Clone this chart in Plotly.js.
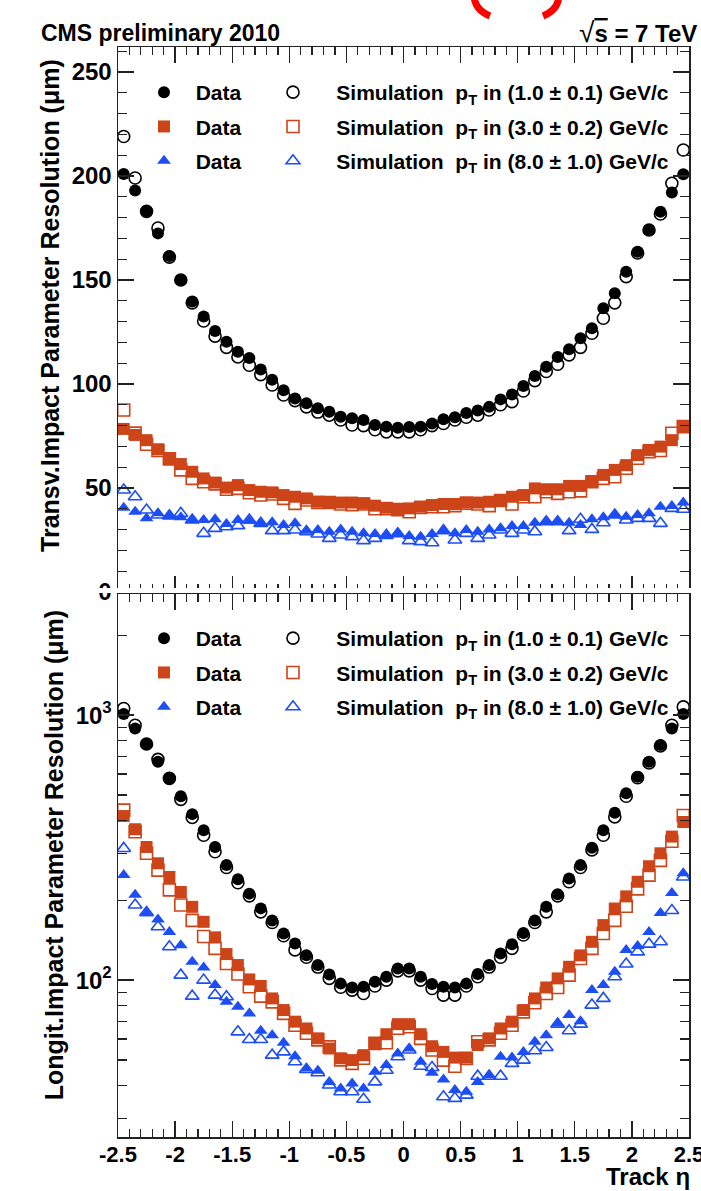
<!DOCTYPE html>
<html>
<head>
<meta charset="utf-8">
<script src="https://cdn.plot.ly/plotly-3.0.1.min.js"></script>
<style>html,body{margin:0;padding:0;background:#fff}#chart{width:701px;height:1191px}</style>
</head>
<body>
<div id="chart"></div>
<script>
// ---------- data ----------
const eta = [-2.45,-2.35,-2.25,-2.15,-2.05,-1.95,-1.85,-1.75,-1.65,-1.55,
             -1.45,-1.35,-1.25,-1.15,-1.05,-0.95,-0.85,-0.75,-0.65,-0.55,
             -0.45,-0.35,-0.25,-0.15,-0.05,0.05,0.15,0.25,0.35,0.45,
             0.55,0.65,0.75,0.85,0.95,1.05,1.15,1.25,1.35,1.45,
             1.55,1.65,1.75,1.85,1.95,2.05,2.15,2.25,2.35,2.45];

// Transverse impact parameter resolution (um)
const d0Data1 = [201,193,183,172.4,161.5,150,139.6,132.4,125.5,120.3,115.5,112.5,107,102,97,93,90.7,88.3,86.7,84.3,
                 83.5,82.7,80.3,79.5,79,79.3,79.5,81,83,84,86,87.2,89,92.6,95,99,103.8,108.3,113,116.7,
                 122,126.8,136.4,143.6,154,163.6,174,182.8,192,200.8];
const d0Sim1  = [219,199,183,175,161,150,139,130.3,123,117.6,113,109,104.5,99.5,94.7,92,89,86.5,85,82.7,
                 80.3,80,78,77,77,77,78,80,81,82.7,84,85,87.5,90,91.5,96.6,101.6,106,109.5,114,
                 117.6,124.4,131.6,139,151.6,163,174,181.7,196.5,212.5];
const d0Data3 = [78.4,75.5,73,68.6,64.3,61.5,57.8,54.6,52.6,50.2,51.4,49,48.2,47.9,46.6,45.8,45,43.4,43,43,
                 43,42.6,41.5,40.5,39.8,40.2,41,41.8,42.3,42.3,43,43,43.4,44.2,45.8,46.6,49.8,49.4,49.4,51,
                 51,53,56.3,58.7,61,65.8,68.3,69.9,73,79.8];
const d0Sim3  = [87.5,76.4,71,68,64,58.7,54.6,53,52,49.4,49.8,47.7,46.6,47.1,45,42.6,44.2,43,43,42.3,
                 42,42.3,40,40,39.6,38.6,40.6,41,41,41.5,42.7,42.3,41.5,44,42.3,45.8,45.8,48.2,47.4,48.2,
                 48.6,53,54.6,55.4,59.5,64.3,67.5,68,76.3,79.5];
const d0Data8 = [40.5,38.6,35.4,37.8,37,35.9,34.6,34.6,35,32.7,34.6,34.2,33,33.5,32.2,33,29.5,29.8,29,30.1,
                 29,28.2,27.9,27.4,28.2,26.9,26.6,27.9,29.5,28.2,29.8,29,30.1,30.6,31.7,31.7,33.3,33.8,33.8,33.3,
                 32.2,35,35.9,37,36.2,37,37.8,41,41.3,43];
const d0Sim8  = [49,45.8,39.4,37,36.6,37.8,34.6,28.2,30.6,31.4,31.9,34.6,33,29.5,29.5,29.8,29,27.9,25.8,27.4,
                 26.6,24.7,25.8,27.2,28,24.7,24.2,23.7,29.5,25,28.2,25.8,27.4,29.8,28.2,29.8,29,33.8,33.8,29.5,
                 35,30.1,33.3,37,34.6,35.4,35.4,33,40.2,39.8];

// Longitudinal impact parameter resolution (um)
const dzData1 = [1009,891,778,667,577,494,423,368,318,272,240,212,186.5,168,150,137.5,124,114,105,97,
                 93.8,94.4,98.6,103,110.6,110.6,103,96.6,94.4,93.8,97,105.4,114,126,136.7,150.7,168,189,211,242,
                 272,316,368,428,507,585,667,771,891,1009];
const dzSim1  = [1059,916,778,681,577,481,411,352,305,266,233,208,181,165,147,130,122,112,101.5,94,
                 91.7,89,95,100,108.4,108.4,100,93,87.8,87.8,95,103,112,122,131.8,148,165,181,208,235,
                 266,310,352,413,494,580,660,765,916,1074];
const dzData3 = [416,371,318,276,245,215,189,166,145,125.4,114,100.6,95,85.3,77.1,69.7,65.7,60.3,55.2,50.7,
                 49.9,52.1,57.7,62.5,68.2,68.2,62.5,56.3,53.6,51,51,56.9,60.3,65.7,69.7,77.1,85.3,93.8,101.5,112.3,
                 124,139.5,161.3,186.3,207,235,269,301,348,395];
const dzSim3  = [438,363,301,260,219,192,168,146,131.8,115.6,105.4,94.4,87,82.8,74.9,67.6,63,59.5,56,50,
                 48.5,50.7,57.7,58,65.8,66.7,60.3,54.5,49.9,47.3,50.6,58.5,59.5,63,67.6,75.9,82.1,89,93.8,104.4,
                 120.7,131.8,150,168,190,221,249,283,334,418];
const dzData8 = [249,210,178.6,169.5,152,135.5,117.2,111.6,95.8,82.8,79.3,74.9,64.4,62,58,51.6,46.4,45.5,41.3,39,
                 40.7,39,45.1,47.8,52.8,55.2,49.2,44.7,42.2,38.5,37.9,41.3,43.8,51.4,51,53.6,58.5,62,68.7,73.8,
                 70,91.7,95.8,107.5,129.8,134.4,152,179,213,253];
const dzSim8  = [314,192,180,159,133.6,104.4,87,100,87.8,86.5,63.8,59.7,59.7,52.1,53.6,49.2,46,44.7,40.2,37.9,
                 37.9,35.5,41.3,45.7,51.4,54.5,47.3,46.8,36.3,35.8,36.8,43.4,43.4,43.4,48.5,49.9,54.1,55.7,68.2,64.4,
                 68.2,80.5,85.3,103,115,127.8,136.7,139.5,183,245];

// labels
const dataLabel = "Data";
const simLabels = ["Simulation&nbsp;&nbsp;p<sub>T</sub> in (1.0 ± 0.1) GeV/c",
                   "Simulation&nbsp;&nbsp;p<sub>T</sub> in (3.0 ± 0.2) GeV/c",
                   "Simulation&nbsp;&nbsp;p<sub>T</sub> in (8.0 ± 1.0) GeV/c"];
const xTickVals = [-2.5,-2,-1.5,-1,-0.5,0,0.5,1,1.5,2,2.5];
const xTickText = ["-2.5","-2","-1.5","-1","-0.5","0","0.5","1","1.5","2","2.5"];
const yTopTickVals = [0,50,100,150,200,250];
const yTopTickText = ["0","50","100","150","200","250"];
const yBotTickVals = [100,1000];
const yBotTickText = ["10<sup>2</sup>","10<sup>3</sup>"];
const yBotMinor = [30,40,50,60,70,80,90,200,300,400,500,600,700,800,900,2000];

// ---------- style ----------
const FONT = "Liberation Sans, Arial, Helvetica, sans-serif";
const BLACK = "#000000", RED = "#CD4419", BLUE = "#1D4EF5";
const COLORS = [BLACK, RED, BLUE];
const FILLED = ["circle","square","triangle-up"];
const OPEN = ["circle-open","square-open","triangle-up-open"];
const MS = 12;

function mk(y, i, filled, xa, ya, legend, name, grp) {
  return {
    type: "scatter", mode: "markers", x: eta, y: y, xaxis: xa, yaxis: ya,
    name: name, legend: legend, legendgroup: grp, showlegend: true,
    marker: {symbol: filled ? FILLED[i] : OPEN[i], size: MS, color: COLORS[i],
             line: {width: filled ? 0 : 1.6, color: COLORS[i]}},
    hoverinfo: "x+y"
  };
}
const pad2 = "&nbsp;&nbsp;", pad4 = "&nbsp;&nbsp;&nbsp;&nbsp;";
const topData = [d0Data1, d0Data3, d0Data8], topSim = [d0Sim1, d0Sim3, d0Sim8];
const botData = [dzData1, dzData3, dzData8], botSim = [dzSim1, dzSim3, dzSim8];
const traces = [];
for (let i = 0; i < 3; i++) traces.push(mk(topSim[i], i, false, "x2", "y2", "legend2", pad4 + simLabels[i], "ts" + i));
for (let i = 0; i < 3; i++) traces.push(mk(topData[i], i, true, "x2", "y2", "legend", pad2 + dataLabel, "td" + i));
for (let i = 0; i < 3; i++) traces.push(mk(botSim[i], i, false, "x", "y", "legend4", pad4 + simLabels[i], "bs" + i));
for (let i = 0; i < 3; i++) traces.push(mk(botData[i], i, true, "x", "y", "legend3", pad2 + dataLabel, "bd" + i));

// geometry helpers (pixel -> paper)
const ML = 118, MR = 12, MT = 47, MB = 54, W = 701, H = 1191;
const PW = W - ML - MR, PH = H - MT - MB;
const px = v => (v - ML) / PW;
const py = v => (H - MB - v) / PH;

const tickCommon = {
  showgrid: false, zeroline: false, showline: true, linecolor: "#222", linewidth: 1.5,
  mirror: "ticks", ticks: "inside", tickcolor: "#222", tickwidth: 1.3,
  ticklabeloverflow: "allow"
};
const xCommon = Object.assign({}, tickCommon, {
  range: [-2.5, 2.5], tickmode: "array", tickvals: xTickVals, ticktext: xTickText, ticklen: 16,
  tickfont: {family: FONT, size: 22, color: "#000", weight: "bold"}, ticklabelstandoff: -3,
  minor: {tickmode: "linear", tick0: -2.5, dtick: 0.1, ticks: "inside", ticklen: 8, tickcolor: "#222", tickwidth: 1.3}
});
const yFont = {family: FONT, size: 24, color: "#000", weight: "bold"};
const legendCommon = {
  bgcolor: "rgba(0,0,0,0)", borderwidth: 0, xanchor: "left", yanchor: "top",
  font: {family: FONT, size: 21, color: "#000", weight: "bold"}, tracegroupgap: 4, itemclick: false
};
const titleFont = {family: FONT, size: 25, color: "#000", weight: "bold"};
const nb = n => "&nbsp;".repeat(n);

// small red bracket fragments cut by the top edge of the image
const redL = `M ${px(474)},${py(-4)} Q ${px(475)},${py(10)} ${px(490)},${py(16)}`;
const redR = `M ${px(559)},${py(-4)} Q ${px(558)},${py(10)} ${px(543)},${py(16)}`;

const layout = {
  width: W, height: H, margin: {l: ML, r: MR, t: MT, b: MB},
  paper_bgcolor: "#fff", plot_bgcolor: "#fff", showlegend: true,
  xaxis: Object.assign({}, xCommon, {anchor: "y", domain: [0, 1]}),
  xaxis2: Object.assign({}, xCommon, {anchor: "y2", domain: [0, 1], showticklabels: false}),
  yaxis2: Object.assign({}, tickCommon, {
    anchor: "x2", domain: [py(592), 1], range: [0, 262], tickfont: yFont,
    tickmode: "array", tickvals: yTopTickVals, ticktext: yTopTickText, ticklen: 16,
    minor: {tickmode: "linear", tick0: 0, dtick: 10, ticks: "inside", ticklen: 9, tickcolor: "#222", tickwidth: 1.3},
    title: {text: nb(4) + "Transv.Impact Parameter Resolution (μm)", font: titleFont, standoff: 5}
  }),
  yaxis: Object.assign({}, tickCommon, {
    anchor: "x", domain: [0, py(594)], type: "log", range: [1.408, 3.457], tickfont: yFont,
    tickmode: "array", tickvals: yBotTickVals, ticktext: yBotTickText, ticklen: 16,
    minor: {tickmode: "array", tickvals: yBotMinor, ticks: "inside", ticklen: 9, tickcolor: "#222", tickwidth: 1.3},
    title: {text: nb(3) + "Longit.Impact Parameter Resolution (μm)", font: titleFont, standoff: 5}
  }),
  legend:  Object.assign({}, legendCommon, {x: px(144), y: py(72)}),
  legend2: Object.assign({}, legendCommon, {x: px(273), y: py(72)}),
  legend3: Object.assign({}, legendCommon, {x: px(144), y: py(618)}),
  legend4: Object.assign({}, legendCommon, {x: px(273), y: py(618)}),
  shapes: [
    {type: "rect", xref: "paper", yref: "paper", layer: "above",
     x0: px(0), x1: px(701), y0: py(593), y1: py(588), fillcolor: "#fff", line: {width: 0}},
    {type: "path", xref: "paper", yref: "paper", layer: "above", path: redL, line: {color: "#FF0000", width: 7}},
    {type: "path", xref: "paper", yref: "paper", layer: "above", path: redR, line: {color: "#FF0000", width: 7}}
  ],
  annotations: [
    {xref: "paper", yref: "paper", x: px(39), y: py(33), xanchor: "left", yanchor: "middle", showarrow: false,
     text: "CMS preliminary 2010", font: {family: FONT, size: 23, color: "#000", weight: "bold"}},
    {xref: "paper", yref: "paper", x: px(699), y: py(33), xanchor: "right", yanchor: "middle", showarrow: false,
     text: "<span style=\"font-size:28px;font-weight:normal\">√</span><span style=\"text-decoration:overline\">s</span> = 7 TeV",
     font: {family: FONT, size: 24, color: "#000", weight: "bold"}},
    {xref: "paper", yref: "paper", x: px(692), y: py(1176), xanchor: "right", yanchor: "middle", showarrow: false,
     text: "Track η", font: {family: FONT, size: 24, color: "#000", weight: "bold"}}
  ]
};

Plotly.newPlot("chart", traces, layout, {displayModeBar: false, staticPlot: true});
</script>
</body>
</html>
